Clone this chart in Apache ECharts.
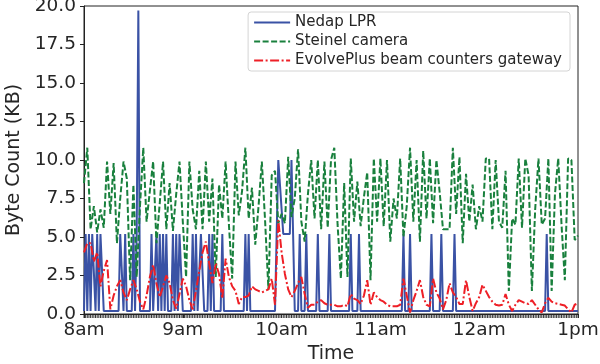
<!DOCTYPE html>
<html>
<head>
<meta charset="utf-8">
<script src="https://cdn.jsdelivr.net/npm/echarts@6/dist/echarts.min.js"></script>
<style>
  html, body { margin: 0; padding: 0; background: #fff; }
  #chart { width: 600px; height: 364px; }
</style>
</head>
<body>
<div id="chart"></div>
<script>
// x tick labels, one per hour (minutes since 8am)
const xTickLabels = ['8am', '9am', '10am', '11am', '12am', '1pm'];
const seriesNames = ['Nedap LPR', 'Steinel camera', 'EvolvePlus beam counters gateway'];

// Nedap LPR: [minute, KB] points
const nedapPoints = [
  [0, 0.2], [1, 5.2], [2, 0.2], [3, 5.2], [4, 0.2], [5, 5.2], [6, 5.2], [7, 0.2], [8, 5.2], [9, 0.2], [10, 5.2], [11, 5.2], [12, 0.2],
  [21, 0.2], [22, 5.2], [23, 5.2], [24, 0.2], [25, 5.2], [26, 0.2],
  [29, 0.2], [30, 5.2], [31, 0.2], [32, 5.2], [33, 19.7], [34, 0.2],
  [40, 0.2], [41, 5.2], [42, 0.2],
  [43, 0.2], [44, 5.2], [45, 0.2], [46, 5.2], [47, 0.2], [48, 5.2], [49, 0.2], [50, 5.2], [51, 0.2],
  [53, 0.2], [54, 5.2], [55, 0.2], [56, 5.2], [57, 0.2], [58, 5.2], [59, 5.2], [60, 0.2],
  [65, 0.2], [66, 5.2], [67, 0.2], [68, 5.2], [69, 0.2], [70, 0.2], [71, 5.2], [72, 5.2], [73, 0.2],
  [75, 0.2], [76, 5.2], [77, 0.2], [78, 5.2], [79, 0.2],
  [83, 0.2], [84, 5.2], [85, 0.2],
  [97, 0.2], [98, 5.2], [99, 0.2], [100, 5.2], [101, 0.2],
  [116, 0.2], [117, 5.2], [118, 10.0], [119, 10.0], [121, 5.2], [125, 5.2], [126, 10.0], [127, 10.0], [128, 0.2],
  [130, 0.2], [131, 5.2], [132, 0.2], [134, 0.2], [135, 5.2], [136, 0.2],
  [141, 0.2], [142, 5.2], [143, 0.2], [148, 0.2], [149, 5.2], [150, 0.2],
  [161, 0.2], [162, 5.2], [163, 0.2], [166, 0.2], [167, 5.2], [168, 0.2],
  [193, 0.2], [194, 5.2], [195, 0.2], [197, 0.2], [198, 5.2], [199, 0.2],
  [210, 0.2], [211, 5.2], [212, 0.2], [216, 0.2], [217, 5.2], [218, 0.2],
  [224, 0.2], [225, 5.2], [226, 0.2],
  [280, 0.2], [281, 5.2], [282, 0.2], [300, 0.2]
];

// Steinel camera and EvolvePlus: one value every 2 minutes from 8am
const sampleStep = 2;
const steinelKB = [
  8.5, 10.8, 5.5, 7.0, 5.3, 6.8, 5.6, 9.9, 6.5, 9.8,
  4.6, 7.5, 9.9, 8.8, 2.2, 8.4, 2.4, 7.0, 10.8, 6.0,
  8.0, 9.9, 4.6, 7.2, 9.9, 5.5, 8.5, 5.4, 7.8, 9.9,
  6.0, 2.4, 9.9, 6.8, 5.5, 9.3, 5.5, 9.9, 6.0, 8.8,
  2.4, 8.4, 6.2, 9.9, 5.8, 2.3, 9.9, 6.4, 8.0, 10.8,
  6.2, 8.2, 4.5, 7.0, 9.9, 6.0, 1.6, 9.0, 9.3, 5.9,
  6.5, 5.9, 10.2, 6.3, 7.5, 10.7, 6.0, 4.7, 7.8, 10.0,
  6.2, 10.0, 5.5, 9.9, 5.6, 10.0, 10.8, 5.8, 2.3, 8.5,
  2.4, 10.1, 6.0, 8.6, 5.7, 7.6, 9.2, 2.2, 10.1, 6.0,
  10.1, 5.7, 10.0, 4.7, 7.5, 6.2, 10.1, 5.0, 7.0, 10.8,
  6.0, 10.0, 4.7, 10.6, 6.2, 10.1, 5.9, 10.0, 7.9, 5.5,
  5.5, 5.5, 10.8, 6.5, 10.2, 4.6, 9.1, 6.0, 8.4, 5.5,
  7.0, 6.0, 10.1, 10.1, 5.5, 10.0, 6.0, 5.6, 9.3, 1.5,
  6.2, 5.8, 10.1, 5.6, 10.1, 9.0, 1.5, 6.8, 10.1, 5.8,
  6.2, 10.1, 1.5, 7.8, 10.1, 5.8, 2.2, 10.1, 10.0, 4.8,
  5.1
];
const evolveKB = [
  4.0, 4.6, 4.6, 3.4, 4.0, 1.8, 2.8, 3.5, 0.3, 1.2,
  1.8, 2.2, 1.4, 0.9, 1.6, 2.2, 1.6, 0.8, 0.3, 1.2,
  2.4, 3.2, 2.0, 1.1, 1.8, 2.5, 2.0, 0.9, 0.35, 1.3,
  2.3, 1.8, 0.9, 0.3, 1.5, 2.8, 4.0, 4.7, 3.3, 2.0,
  3.3, 2.6, 1.0, 3.6, 2.4, 1.8, 1.5, 0.65, 1.1, 1.1,
  1.2, 1.8, 1.6, 1.5, 1.4, 1.5, 1.6, 2.3, 0.6, 6.1,
  4.0, 2.6, 1.6, 1.1, 1.5, 2.0, 2.4, 1.3, 0.4, 0.6,
  0.6, 0.8, 0.9, 0.7, 0.6, 0.6, 0.6, 0.5, 0.5, 0.6,
  0.5, 1.3, 1.0, 0.9, 0.65, 1.2, 2.2, 0.6, 1.4, 1.1,
  0.9, 0.8, 0.6, 0.5, 0.5, 0.5, 0.6, 2.3, 1.2, 0.1,
  0.9, 1.5, 2.2, 1.1, 0.6, 0.5, 2.3, 1.4, 1.0, 0.3,
  0.9, 2.0, 1.4, 1.1, 0.65, 0.65, 2.2, 1.1, 0.2, 0.7,
  1.1, 1.9, 1.5, 1.1, 0.8, 0.6, 0.55, 0.6, 1.3, 0.6,
  0.2, 0.6, 0.9, 0.8, 0.7, 0.65, 0.9, 0.6, 0.3, 0.1,
  0.7, 1.05, 0.8, 0.7, 0.65, 0.6, 0.55, 0.3, 0.1, 0.6,
  0.7
];

const font = 'DejaVu Sans';
const toPairs = arr => arr.map((v, i) => [i * sampleStep, v]);

// one category per minute from 8am to 1pm
const minuteTicks = [];
for (let m = 0; m <= 300; m++) minuteTicks.push(String(m));
// tick strip: a 1px mark at every minute under the axis
const tickStrip = minuteTicks.map(() => 1);

const chart = echarts.init(document.getElementById('chart'), null, { renderer: 'canvas' });
chart.setOption({
  animation: false,
  backgroundColor: '#fff',
  grid: [
    {
      left: 84, right: 22, top: 6, bottom: 50,
      outerBoundsMode: 'none',
      containLabel: false,
      show: true, borderColor: '#222', borderWidth: 1
    },
    {
      left: 84, right: 22, top: 315, height: 3,
      outerBoundsMode: 'none',
      containLabel: false
    }
  ],
  legend: {
    orient: 'vertical',
    right: 30, top: 12,
    data: seriesNames,
    itemWidth: 36, itemHeight: 14, itemGap: 4,
    padding: [3, 8, 3, 5],
    borderColor: '#d4d4d4', borderWidth: 1, borderRadius: 3,
    backgroundColor: '#fff',
    itemStyle: { opacity: 0 },
    textStyle: { fontFamily: font, fontSize: 15, color: '#262626' }
  },
  xAxis: [
    {
      type: 'category',
      data: minuteTicks, boundaryGap: false,
      name: 'Time', nameLocation: 'middle', nameGap: 21,
      nameTextStyle: { fontFamily: font, fontSize: 19, color: '#262626' },
      axisLine: { lineStyle: { color: '#222', width: 1 } },
      axisTick: { show: true, interval: 59, length: 4, lineStyle: { color: '#222', width: 1 } },
      splitLine: { show: false },
      axisLabel: {
        interval: 59,
        fontFamily: font, fontSize: 18.5, color: '#262626', margin: 7,
        formatter: (v, idx) => xTickLabels[Math.round(idx / 60)]
      }
    },
    {
      gridIndex: 1,
      type: 'category',
      data: minuteTicks, boundaryGap: false,
      axisLine: { show: false },
      axisTick: { show: false },
      axisLabel: { show: false },
      splitLine: { show: false }
    }
  ],
  yAxis: [
    {
      type: 'value',
      min: 0, max: 20, interval: 2.5,
      name: 'Byte Count (KB)', nameLocation: 'middle', nameGap: 53,
      nameTextStyle: { fontFamily: font, fontSize: 19, color: '#262626' },
      axisLine: { show: true, lineStyle: { color: '#222', width: 1 } },
      axisTick: { show: true, length: 4, lineStyle: { color: '#222' } },
      splitLine: { show: false },
      axisLabel: {
        fontFamily: font, fontSize: 18.5, color: '#262626', margin: 8,
        formatter: v => v.toFixed(1)
      }
    },
    { gridIndex: 1, type: 'value', min: 0, max: 1, show: false }
  ],
  series: [
    {
      name: seriesNames[0], type: 'line', data: nedapPoints,
      symbol: 'none', z: 2,
      lineStyle: { color: '#3a52a5', width: 2 },
      itemStyle: { color: '#3a52a5' }
    },
    {
      name: seriesNames[1], type: 'line', data: toPairs(steinelKB),
      symbol: 'none', z: 3,
      lineStyle: { color: '#19803d', width: 2, type: [6, 2.5] },
      itemStyle: { color: '#19803d' }
    },
    {
      name: seriesNames[2], type: 'line', data: toPairs(evolveKB),
      symbol: 'none', z: 4,
      lineStyle: { color: '#ee1f26', width: 2, type: [9, 2.5, 2, 2.5] },
      itemStyle: { color: '#ee1f26' }
    },
    {
      name: 'minute ticks', type: 'bar',
      xAxisIndex: 1, yAxisIndex: 1,
      data: tickStrip, barWidth: 1, silent: true,
      itemStyle: { color: '#333' }
    }
  ]
});
</script>
</body>
</html>
